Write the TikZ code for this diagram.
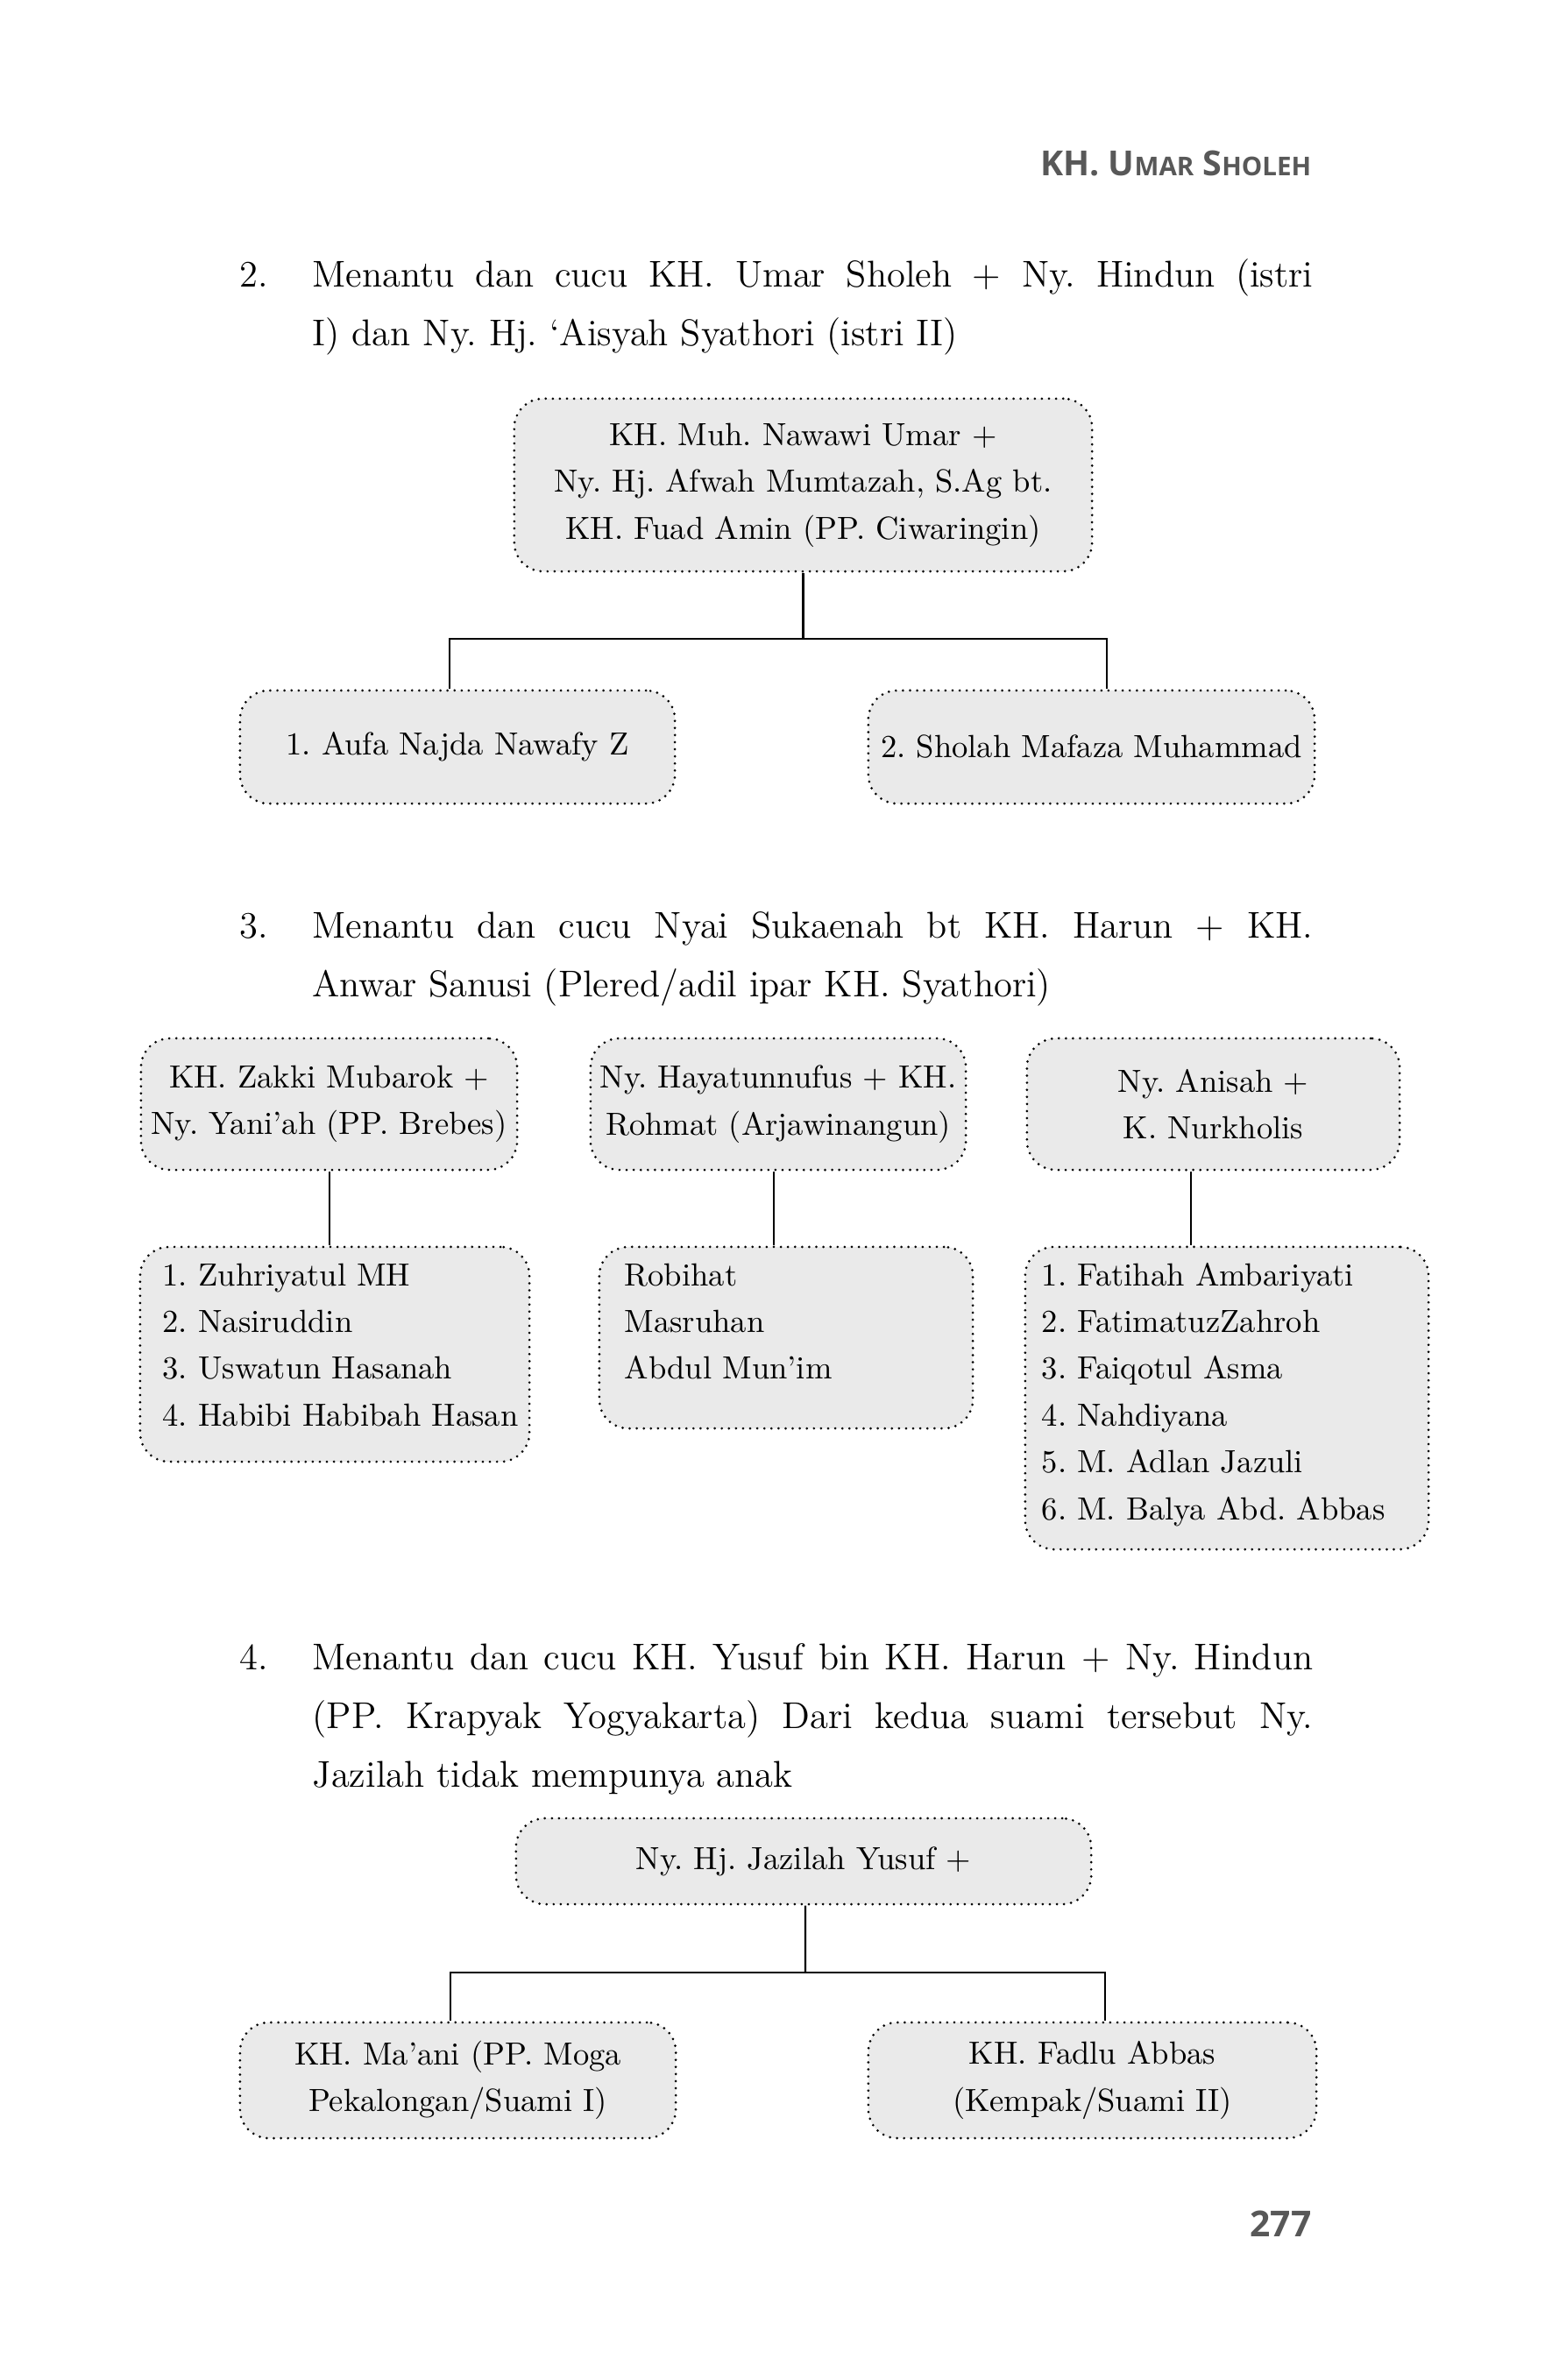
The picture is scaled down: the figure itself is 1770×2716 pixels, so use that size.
\documentclass[tikz,border=0pt]{standalone}
\usepackage{fontspec}
\newfontfamily\hdrfont{Open Sans}
\definecolor{boxfill}{RGB}{234,234,234}
\definecolor{hdrgray}{RGB}{88,88,88}
\newcommand\bodyfs{\fontsize{12.1pt}{19.06pt}\selectfont}
\newcommand\boxfs{\fontsize{10.4pt}{15.2pt}\selectfont}
\newcommand\smc[1]{{\fontsize{8.4pt}{9pt}\selectfont #1}}
\frenchspacing
\tikzset{
  famnode/.style={draw=black, fill=boxfill, line width=0.85pt,
    dash pattern=on 0pt off 2.3pt, line cap=round, rounded corners=0.33cm,
    inner sep=0pt, font=\boxfs, align=center},
  listtext/.style={inner sep=0pt, font=\boxfs, anchor=base west},
  bodytext/.style={inner sep=0pt, font=\bodyfs, anchor=base west},
  conn/.style={line width=0.6pt, draw=black},
}
\begin{document}
\begin{tikzpicture}[x=0.01cm, y=-0.01cm]
\useasboundingbox (0,0) rectangle (1770,2716);

% running head and page number
\node[anchor=base east, inner sep=0pt, text=hdrgray, font=\hdrfont\bfseries] (hdr) at (1497,201)
  {\fontsize{11.2pt}{12pt}\selectfont KH. U\smc{MAR} S\smc{HOLEH}};
\node[anchor=base east, inner sep=0pt, text=hdrgray, font=\hdrfont\bfseries\fontsize{11.6pt}{12pt}\selectfont] (pg) at (1497,2552) {277};

% ---------- item 2 ----------
\node[bodytext] (n2) at (273,328) {2.};
\node[bodytext] (p2a) at (356,328) {\makebox[11.41cm][s]{Menantu dan cucu KH. Umar Sholeh + Ny. Hindun (istri}};
\node[bodytext] (p2b) at (356,395) {I) dan Ny. Hj. ‘Aisyah Syathori (istri II)};

\node[famnode, minimum width=6.59cm, minimum height=1.97cm] (t2) at (916.5,553.5)
  {KH. Muh. Nawawi Umar +\\Ny. Hj. Afwah Mumtazah, S.Ag bt.\\KH. Fuad Amin (PP. Ciwaringin)};
\node[famnode, minimum width=4.96cm, minimum height=1.29cm] (c21) at (522,852.5) {1. Aufa Najda Nawafy Z};
\node[famnode, minimum width=5.09cm, minimum height=1.29cm] (c22) at (1245.5,852.5) {2. Sholah Mafaza Muhammad};
\coordinate (j2) at (916.5,729);
\draw[conn] (t2.south) -- (j2);
\draw[conn] ([xshift=-0.09cm]c21.north) |- ([xshift=0.175cm]c22.north |- j2) -- ([xshift=0.175cm]c22.north);

% ---------- item 3 ----------
\node[bodytext] (n3) at (273,1070) {3.};
\node[bodytext] (p3a) at (356,1070) {\makebox[11.41cm][s]{Menantu dan cucu Nyai Sukaenah bt KH. Harun + KH.}};
\node[bodytext] (p3b) at (356,1137) {Anwar Sanusi (Plered/adil ipar KH. Syathori)};

\node[famnode, minimum width=4.29cm, minimum height=1.50cm] (pa) at (375.5,1260) {KH. Zakki Mubarok +\\Ny. Yani’ah (PP. Brebes)};
\node[famnode, minimum width=4.28cm, minimum height=1.50cm] (pb) at (888,1260) {Ny. Hayatunnufus + KH.\\Rohmat (Arjawinangun)};
\node[famnode, minimum width=4.25cm, minimum height=1.50cm] (pc) at (1384.5,1260) {Ny. Anisah +\\K. Nurkholis};

\node[famnode, minimum width=4.44cm, minimum height=2.45cm] (ca) at (382,1545.5) {};
\node[famnode, minimum width=4.26cm, minimum height=2.07cm] (cb) at (897,1526.5) {};
\node[famnode, minimum width=4.60cm, minimum height=3.45cm] (cc) at (1400,1595.5) {};

\node[listtext] (cat) at (185,1467) {\vtop{\hbox{1. Zuhriyatul MH}\hbox{2. Nasiruddin}\hbox{3. Uswatun Hasanah}\hbox{4. Habibi Habibah Hasan}}};
\node[listtext] (cbt) at (712,1467) {\vtop{\hbox{Robihat}\hbox{Masruhan}\hbox{Abdul Mun’im}}};
\node[listtext] (cct) at (1188,1467) {\vtop{\hbox{1. Fatihah Ambariyati}\hbox{2. FatimatuzZahroh}\hbox{3. Faiqotul Asma}\hbox{4. Nahdiyana}\hbox{5. M. Adlan Jazuli}\hbox{6. M. Balya Abd. Abbas}}};

\draw[conn] ([xshift=0.005cm]pa.south) -- ([xshift=0.005cm]pa.south |- ca.north);
\draw[conn] ([xshift=-0.05cm]pb.south) -- ([xshift=-0.05cm]pb.south |- cb.north);
\draw[conn] ([xshift=-0.255cm]pc.south) -- ([xshift=-0.255cm]pc.south |- cc.north);

% ---------- item 4 ----------
\node[bodytext] (n4) at (273,1905) {4.};
\node[bodytext] (p4a) at (356,1905) {\makebox[11.41cm][s]{Menantu dan cucu KH. Yusuf bin KH. Harun + Ny. Hindun}};
\node[bodytext] (p4b) at (356,1972) {\makebox[11.41cm][s]{(PP. Krapyak Yogyakarta) Dari kedua suami tersebut Ny.}};
\node[bodytext] (p4c) at (356,2039) {Jazilah tidak mempunya anak};

\node[famnode, minimum width=6.56cm, minimum height=0.98cm] (t4) at (917,2124) {Ny. Hj. Jazilah Yusuf +};
\node[famnode, minimum width=4.97cm, minimum height=1.32cm] (c41) at (522.5,2374) {KH. Ma’ani (PP. Moga\\Pekalongan/Suami I)};
\node[famnode, minimum width=5.11cm, minimum height=1.32cm] (c42) at (1246.5,2374) {KH. Fadlu Abbas\\(Kempak/Suami II)};
\coordinate (j4) at (919,2251);
\draw[conn] ([xshift=0.02cm]t4.south) -- (j4);
\draw[conn] ([xshift=-0.085cm]c41.north) |- ([xshift=0.145cm]c42.north |- j4) -- ([xshift=0.145cm]c42.north);
\end{tikzpicture}
\end{document}
